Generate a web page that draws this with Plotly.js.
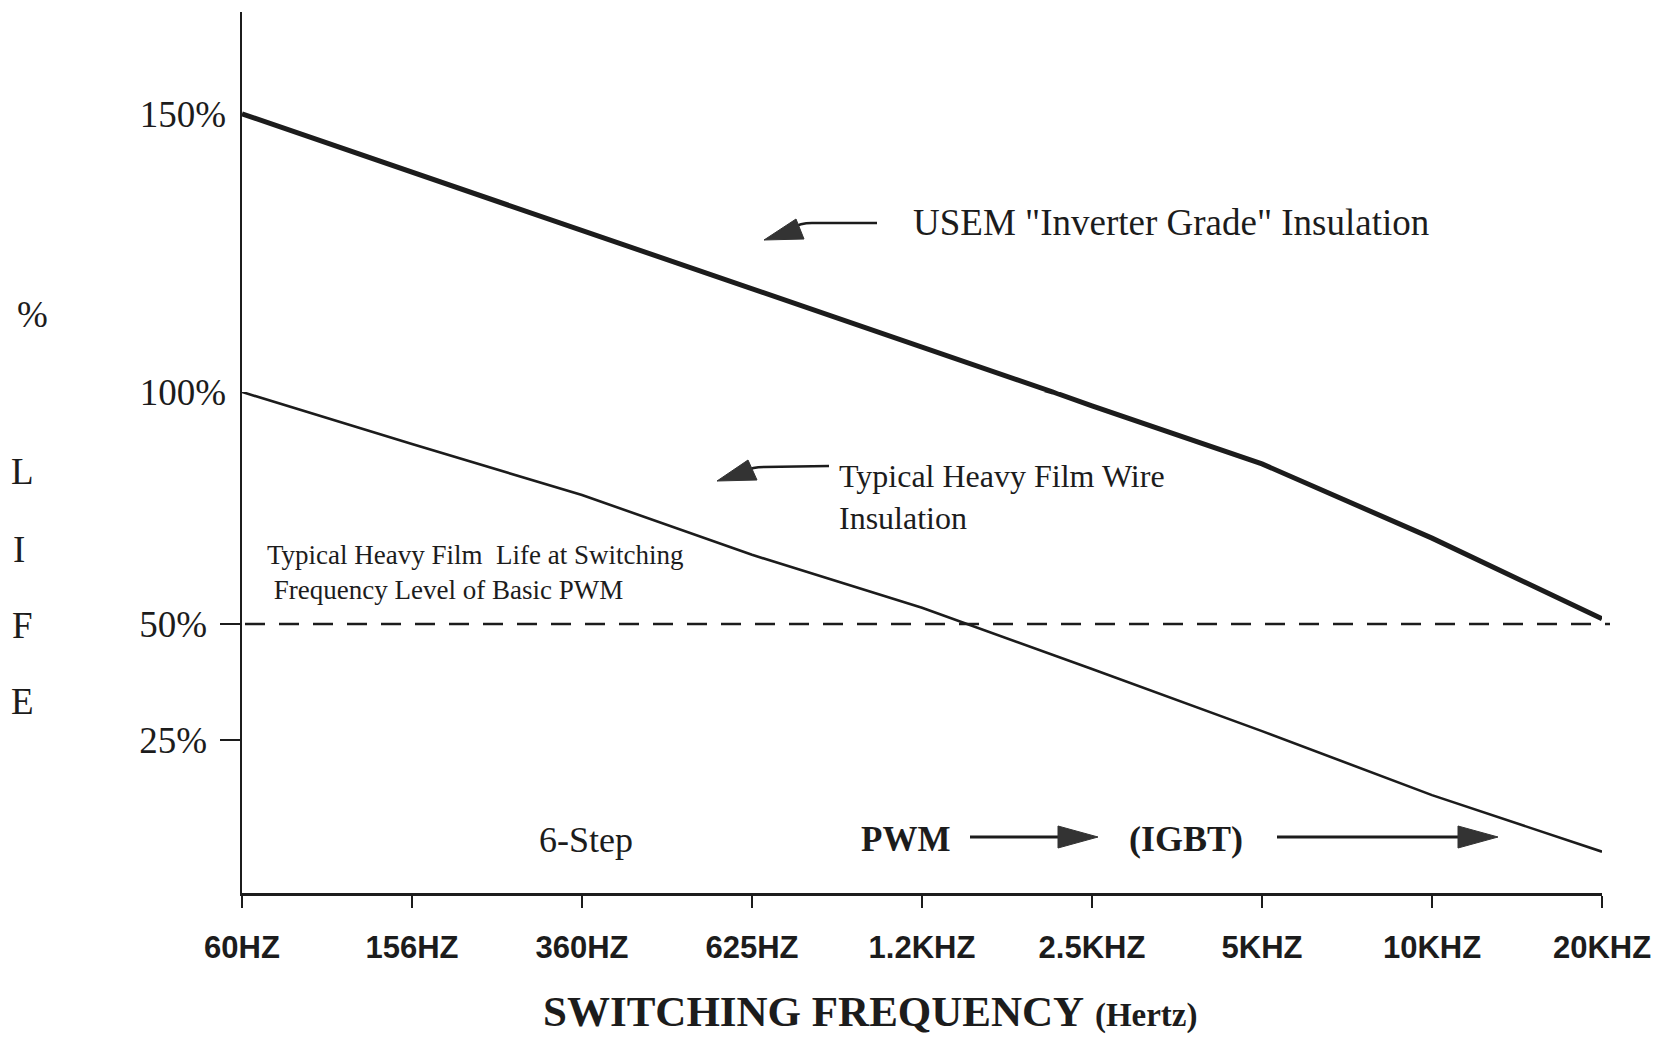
<!DOCTYPE html>
<html>
<head>
<meta charset="utf-8">
<script src="https://cdn.plot.ly/plotly-3.0.1.min.js"></script>
<style>html,body{margin:0;padding:0;background:#fff;}#chart{width:1661px;height:1037px;}</style>
</head>
<body>
<div id="chart"></div>
<script>
// ---------- DATA ----------
// x positions are the equally spaced switching-frequency ticks (index 0..8)
const freqLabels = ['60HZ','156HZ','360HZ','625HZ','1.2KHZ','2.5KHZ','5KHZ','10KHZ','20KHZ'];
const freqTickPos = [0, 1, 2, 3, 4, 5, 6, 7, 8];

// USEM "Inverter Grade" insulation (% life); 4.77 is where the curve crosses 100 %
const usemX = [0, 1, 2, 3, 4, 4.77, 5, 6, 7, 8];
const usemY = [150, 139.5, 129.0, 118.5, 108.0, 100, 97.0, 84.5, 68.5, 51.1];

// Typical heavy film wire insulation (% life)
const heavyX = [0, 1, 2, 3, 4, 5, 6, 7, 8];
const heavyY = [100, 88.8, 77.8, 64.9, 53.5, 40.3, 26.9, 13.1, 0.9];

// Basic PWM reference level
const basicPwmLevel = 50;

// y tick labels (the original axis is drawn with a larger scale above 100 %)
const lowerTickVals = [25, 50];
const lowerTickText = ['25%', '50%'];
const upperTickVals = [100, 150];
const upperTickText = ['100%', '150%'];

// ---------- LAYOUT HELPERS ----------
const L = 242, R = 1602, T = 12, B = 893;       // plot area in pixels
const Y100 = 392;                                 // pixel row of the 100 % break
const split = (B - Y100) / (B - T);
const px = x => (x - L) / (R - L);
const py = y => (B - y) / (B - T);
const serif = 'Liberation Serif, Times New Roman, serif';
const sans = 'Liberation Sans, Arial, sans-serif';
const ink = '#1c1c1c';

function pathPx(cmds) {
  return cmds.map(c => {
    if (c[0] === 'Z') return 'Z';
    if (c[0] === 'Q') return 'Q' + px(c[1]) + ',' + py(c[2]) + ' ' + px(c[3]) + ',' + py(c[4]);
    return c[0] + px(c[1]) + ',' + py(c[2]);
  }).join(' ');
}
function lineShape(cmds, w) {
  return {type: 'path', xref: 'paper', yref: 'paper', path: pathPx(cmds),
          line: {color: ink, width: w}, fillcolor: 'rgba(0,0,0,0)'};
}
function headShape(cmds) {
  return {type: 'path', xref: 'paper', yref: 'paper', path: pathPx(cmds),
          line: {color: '#333', width: 1}, fillcolor: '#333'};
}
function txt(text, x, y, size, opts) {
  return Object.assign({xref: 'paper', yref: 'paper', x: px(x), y: py(y), text: text,
    showarrow: false, xanchor: 'center', yanchor: 'middle',
    font: {family: serif, size: size, color: ink}}, opts || {});
}

// ---------- TRACES ----------
// The USEM series is drawn on both parts of the broken y axis; each part is
// clipped to its own range (with one point of overlap) so they join seamlessly.
const idx = usemY.map((v, i) => i);
const upperIdx = idx.filter(i => usemY[i] >= 100 || (i > 0 && usemY[i - 1] >= 100));
const lowerIdx = idx.filter(i => usemY[i] <= 100 || (i < usemY.length - 1 && usemY[i + 1] <= 100));
const traces = [
  {x: upperIdx.map(i => usemX[i]), y: upperIdx.map(i => usemY[i]), xaxis: 'x', yaxis: 'y2', mode: 'lines',
   line: {color: ink, width: 5}, hoverinfo: 'skip', name: 'USEM "Inverter Grade" Insulation'},
  {x: lowerIdx.map(i => usemX[i]), y: lowerIdx.map(i => usemY[i]), xaxis: 'x', yaxis: 'y', mode: 'lines',
   line: {color: ink, width: 5}, hoverinfo: 'skip', name: 'USEM "Inverter Grade" Insulation'},
  {x: heavyX, y: heavyY, xaxis: 'x', yaxis: 'y', mode: 'lines',
   line: {color: ink, width: 2.6}, hoverinfo: 'skip', name: 'Typical Heavy Film Wire Insulation'}
];

// ---------- LAYOUT ----------
const layout = {
  width: 1661, height: 1037,
  margin: {l: L, r: 1661 - R, t: T, b: 1037 - B, pad: 0},
  paper_bgcolor: '#fff', plot_bgcolor: '#fff',
  showlegend: false,
  font: {family: serif, color: ink},
  xaxis: {
    range: [0, 8], anchor: 'y', showgrid: false, zeroline: false,
    showline: true, linecolor: ink, linewidth: 3,
    tickmode: 'array', tickvals: freqTickPos, ticktext: freqLabels,
    ticks: 'outside', ticklen: 12, tickwidth: 2, tickcolor: ink,
    ticklabelstandoff: 13,
    tickfont: {family: sans, size: 31, color: ink, weight: 'bold'}
  },
  yaxis: {
    domain: [0, split], range: [-8.0, 100], anchor: 'x',
    showgrid: false, zeroline: false,
    showline: true, linecolor: ink, linewidth: 2.5,
    tickmode: 'array', tickvals: lowerTickVals, ticktext: lowerTickText,
    ticks: 'outside', ticklen: 20, tickwidth: 2, tickcolor: ink,
    ticklabelstandoff: 5,
    tickfont: {family: serif, size: 37, color: ink}
  },
  yaxis2: {
    domain: [split, 1], range: [100, 168.3], anchor: 'x',
    showgrid: false, zeroline: false,
    showline: true, linecolor: ink, linewidth: 2.5,
    tickmode: 'array', tickvals: upperTickVals, ticktext: upperTickText,
    ticks: '', ticklabelstandoff: 6,
    tickfont: {family: serif, size: 37, color: ink}
  },
  shapes: [
    // basic PWM 50 % dashed reference line
    {type: 'line', xref: 'paper', yref: 'y', x0: px(L + 3), x1: px(1610),
     y0: basicPwmLevel, y1: basicPwmLevel,
     line: {color: ink, width: 2.5, dash: '20px,14px'}},
    // arrow to the USEM curve
    lineShape([['M', 877, 223], ['L', 812, 223], ['Q', 800, 223, 792, 228]], 2.5),
    headShape([['M', 764, 240], ['L', 796, 219], ['L', 804, 239], ['Z']]),
    // arrow to the heavy film curve
    lineShape([['M', 829, 466], ['L', 764, 467], ['Q', 752, 467, 746, 471]], 2.5),
    headShape([['M', 717, 481], ['L', 748, 460], ['L', 757, 480], ['Z']]),
    // PWM -> arrow
    lineShape([['M', 970, 837], ['L', 1062, 837]], 3),
    headShape([['M', 1098, 837], ['L', 1058, 826], ['L', 1058, 848], ['Z']]),
    // (IGBT) -> arrow
    lineShape([['M', 1277, 837], ['L', 1462, 837]], 3),
    headShape([['M', 1498, 837], ['L', 1458, 826], ['L', 1458, 848], ['Z']])
  ],
  annotations: [
    txt('%', 32, 315, 37),
    txt('L', 23, 471, 37),
    txt('I', 19, 549, 37),
    txt('F', 23, 625, 37),
    txt('E', 23, 701, 37),
    txt('USEM "Inverter Grade" Insulation', 911, 222, 37, {xanchor: 'left'}),
    txt('Typical Heavy Film Wire<br>Insulation', 837, 497, 32, {xanchor: 'left', align: 'left'}),
    txt('Typical Heavy Film&nbsp; Life at Switching<br>&nbsp;Frequency Level of Basic PWM', 265, 572, 27,
        {xanchor: 'left', align: 'left'}),
    txt('6-Step', 586, 840, 36),
    txt('<b>PWM</b>', 905, 839, 35),
    txt('<b>(IGBT)</b>', 1186, 839, 36),
    txt('<b>SWITCHING FREQUENCY</b> <b><span style="font-size:33px">(Hertz)</span></b>', 870, 1011, 43)
  ]
};

Plotly.newPlot('chart', traces, layout, {staticPlot: true, displayModeBar: false});
</script>
</body>
</html>
